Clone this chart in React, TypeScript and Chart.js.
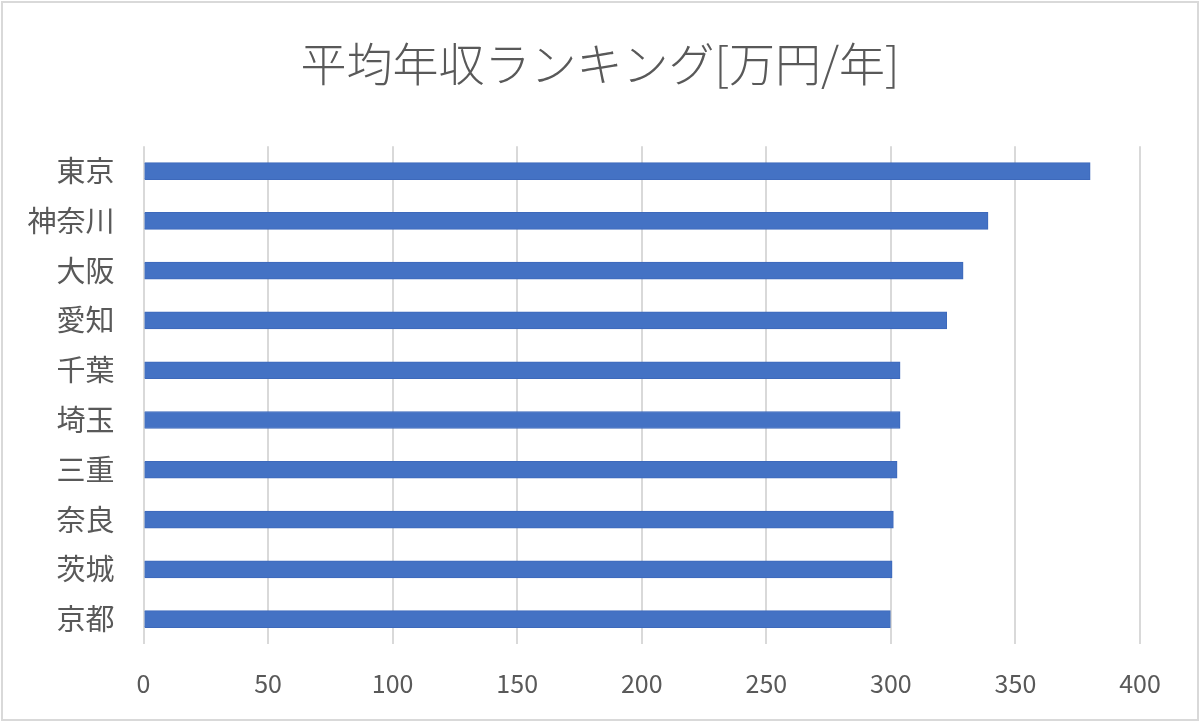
import React, { useEffect, useRef } from "react";
import { Chart, registerables } from "chart.js";

Chart.register(...registerables);

const TITLE = "平均年収ランキング[万円/年]";
const prefectures = ["東京", "神奈川", "大阪", "愛知", "千葉", "埼玉", "三重", "奈良", "茨城", "京都"];
const incomes = [380, 339, 329, 322.4, 303.7, 303.7, 302.5, 301, 300.5, 299.8];
const xMin = 0;
const xMax = 400;
const xStep = 50;

const FONT = "'Noto Sans CJK JP', 'Noto Sans', sans-serif";

export default function App() {
  const ref = useRef<HTMLCanvasElement | null>(null);

  useEffect(() => {
    document.body.style.margin = "0";
    const canvas = ref.current;
    if (!canvas) return;
    const framePlugin = {
      id: "frame",
      beforeDraw(chart: any) {
        const ctx = chart.ctx;
        ctx.save();
        ctx.fillStyle = "#ffffff";
        ctx.fillRect(0, 0, chart.width, chart.height);
        ctx.strokeStyle = "#d9d9d9";
        ctx.lineWidth = 2;
        ctx.strokeRect(2, 2, chart.width - 4, chart.height - 3);
        ctx.restore();
      },
    };
    const chart = new Chart(canvas, {
      type: "bar",
      data: {
        labels: prefectures,
        datasets: [
          {
            data: incomes,
            backgroundColor: "#4472c4",
            borderColor: "#3d69bb",
            borderWidth: 1,
            barThickness: 17,
          },
        ],
      },
      options: {
        indexAxis: "y",
        responsive: false,
        animation: false,
        layout: { padding: { left: 23.5, right: 23.5, top: 10, bottom: 17 } },
        plugins: {
          legend: { display: false },
          tooltip: { enabled: false },
          title: {
            display: true,
            text: TITLE,
            color: "#595959",
            font: { family: FONT, size: 46, weight: 300 },
            padding: { top: 26, bottom: 55 },
          },
        },
        scales: {
          x: {
            min: xMin,
            max: xMax,
            ticks: {
              stepSize: xStep,
              color: "#595959",
              font: { family: FONT, size: 25 },
              padding: 24,
            },
            grid: { color: "#d9d9d9", lineWidth: 2, drawTicks: false },
            border: { display: false },
            afterFit: (scale: any) => {
              scale.height = 60;
            },
          },
          y: {
            ticks: {
              color: "#595959",
              font: { family: FONT, size: 29 },
              padding: 29,
            },
            grid: { display: false, drawTicks: false },
            border: { display: false },
            afterFit: (scale: any) => {
              scale.width = 120;
            },
          },
          ySpacer: {
            type: "linear",
            position: "right",
            display: true,
            ticks: { display: false },
            grid: { display: false, drawTicks: false },
            border: { display: false },
            afterFit: (scale: any) => {
              scale.width = 36.5;
            },
          },
        },
      },
      plugins: [framePlugin],
    });
    return () => chart.destroy();
  }, []);

  return (
    <div style={{ position: "absolute", left: 0, top: 0, width: 1200, height: 721 }}>
      <canvas ref={ref} width={1200} height={721} style={{ display: "block" }} />
    </div>
  );
}
